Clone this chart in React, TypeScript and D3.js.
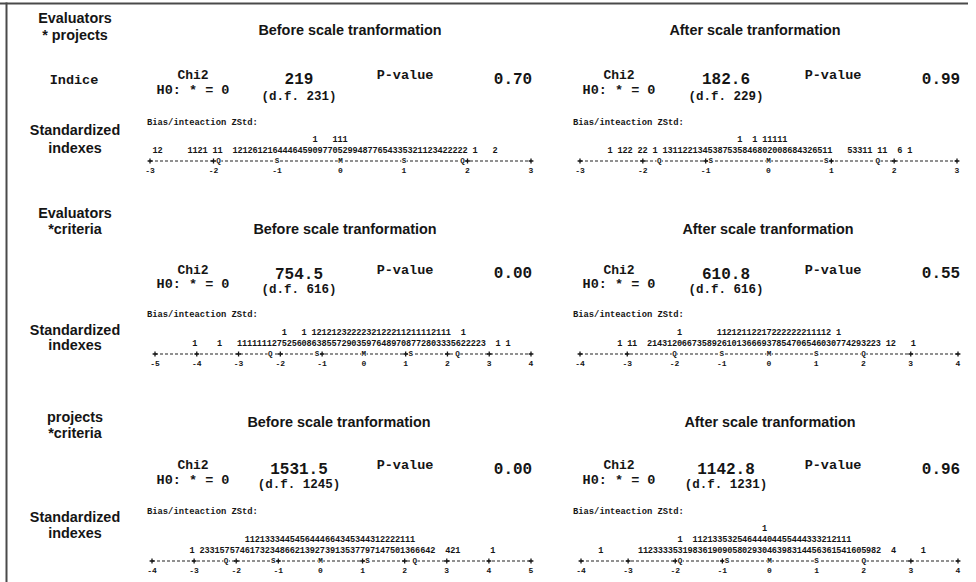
import React from 'react';
import * as d3 from 'd3';

const W = 976;
const H = 582;

// Interaction facets
const facetNames = [
  ['Evaluators', '* projects'],
  ['Evaluators', '*criteria'],
  ['projects', '*criteria'],
];
const stageTitles = ['Before scale tranformation', 'After scale tranformation'];

// Fixed-effects chi-square test per facet interaction
const chi2Before = [219, 754.5, 1531.5];
const dfBefore = [231, 616, 1245];
const pBefore = [0.7, 0.0, 0.0];
const chi2After = [182.6, 610.8, 1142.8];
const dfAfter = [229, 616, 1231];
const pAfter = [0.99, 0.55, 0.96];

// ZStd ruler extents and character columns per ZStd unit
const domainBefore: [number, number][] = [[-3, 3], [-5, 4], [-4, 5]];
const domainAfter: [number, number][] = [[-3, 3], [-4, 4], [-4, 4]];
const colsBefore = [12.7, 8.4, 8.4];
const colsAfter = [12.57, 9.5, 9.5];

// Mean (M), +-1 S.D. (S), +-2 S.D. (Q) markers on the ruler
const markersBefore: [string, number][][] = [
  [['Q', -1.92], ['S', -1], ['M', 0], ['S', 1], ['Q', 1.92]],
  [['Q', -2.24], ['S', -1.12], ['M', 0], ['S', 1.12], ['Q', 2.24]],
  [['Q', -2.24], ['S', -1.12], ['M', 0], ['S', 1.12], ['Q', 2.24]],
];
const markersAfter: [string, number][][] = [
  [['Q', -1.74], ['S', -0.92], ['M', 0], ['S', 0.92], ['Q', 1.74]],
  [['Q', -2], ['S', -1], ['M', 0], ['S', 1], ['Q', 2]],
  [['Q', -1.9], ['S', -0.9], ['M', 0], ['S', 1], ['Q', 2]],
];

// Vertical digit histograms of Bias/interaction ZStd.
// Each row lists [starting column, digits]; row 0 holds the units digit,
// higher rows the tens (and hundreds) digits of the column counts.
type Seg = [number, string];
const histBefore: Seg[][][] = [
  [
    [[1, '12'], [8, '1121'], [13, '11'], [17, '12126121644464590977052994877654335321123422222'], [65, '1'], [69, '2']],
    [[33, '1'], [37, '111']],
  ],
  [
    [[8, '1'], [13, '1'], [17, '11111112752560863855729035976489708772803335622223'], [69, '1'], [71, '1']],
    [[26, '1'], [30, '1'], [32, '1212123222232122211211112111'], [62, '1']],
  ],
  [
    [[8, '1'], [10, '23315757461732348662139273913537797147501366642'], [59, '421'], [68, '1']],
    [[19, '1121333445456444664345344312222111']],
  ],
];
const histAfter: Seg[][][] = [
  [
    [[6, '1 122 22 1 1311221345387535846802008684326511'], [54, '53311'], [60, '11'], [64, '6'], [66, '1']],
    [[32, '1'], [35, '1'], [37, '11111']],
  ],
  [
    [[8, '1'], [10, '11'], [14, '21431206673589261013666937854706546030774293223'], [62, '12'], [67, '1']],
    [[20, '1'], [28, '11212112217222222211112'], [52, '1']],
  ],
  [
    [[4, '1'], [12, '1123333531983619090580293046398314456361541605982'], [63, '4'], [69, '1']],
    [[20, '1'], [23, '11213353254644404455444333212111']],
    [[37, '1']],
  ],
];

// ---- layout ----
const SANS = '"Liberation Sans", Arial, Helvetica, sans-serif';
const MONO = '"Liberation Mono", "DejaVu Sans Mono", monospace';
const INK = '#151515';

const rangeBefore: [number, number][] = [[150, 531], [155, 531], [152, 531]];
const rangeAfter: [number, number][] = [[580, 957], [580, 958], [581, 958]];

const sec = [
  { name: [18, 35], title: 30, chi: 75, h0: 90, val: 80, df: 97, pLab: 75, pVal: 80, std: [130, 148], bias: 123, main: 150.5, axis: 161, lab: 170, indice: 80 },
  { name: [213, 229], title: 229, chi: 270, h0: 284, val: 275, df: 290, pLab: 270, pVal: 274, std: [330, 345], bias: 315, main: 343.5, axis: 354, lab: 363, indice: null },
  { name: [417, 433], title: 422, chi: 465, h0: 480, val: 470, df: 485, pLab: 465, pVal: 470, std: [517, 533], bias: 512, main: 550.5, axis: 561, lab: 570, indice: null },
];
const titleX = [[350, 755], [345, 768], [339, 770]];
const ROW_GAP = 10.6;

type PanelProps = {
  side: number;
  s: typeof sec[number];
  chi2: number;
  df: number;
  p: number;
  domain: [number, number];
  range: [number, number];
  cols: number;
  markers: [string, number][];
  rows: Seg[][];
};

function Panel({ side, s, chi2, df, p, domain, range, cols, markers, rows }: PanelProps) {
  const x = d3.scaleLinear().domain(domain).range(range);
  const ticks = d3.range(domain[0], domain[1] + 1);
  const colStep = 1 / cols;
  const colPx = x(domain[0] + colStep) - x(domain[0]);

  const chiX = side === 0 ? 193 : 619;
  const valX = side === 0 ? 299 : 726;
  const pLabX = side === 0 ? 405 : 833;
  const pValX = side === 0 ? 513 : 941;
  const biasX = side === 0 ? 147 : 573;

  const digits: { x: number; y: number; ch: string; k: string }[] = [];
  rows.forEach((row, r) => {
    row.forEach(([c0, str], si) => {
      str.split('').forEach((ch, i) => {
        if (ch !== ' ') {
          digits.push({ x: x(domain[0] + (c0 + i) * colStep), y: s.main - r * ROW_GAP, ch, k: `${r}-${si}-${i}` });
        }
      });
    });
  });

  const plusTicks = ticks.filter(t => !markers.some(([, v]) => Math.abs(x(v) - x(t)) < colPx * 0.6));
  const cross = (cx: number, cy: number) => `M${cx - 2.4},${cy}h4.8M${cx},${cy - 2.4}v4.8`;

  return (
    <g>
      {/* statistics */}
      <text x={chiX} y={s.chi} textAnchor="middle" fontFamily={MONO} fontWeight="bold" fontSize={13}>Chi2</text>
      <text x={chiX} y={s.h0} textAnchor="middle" fontFamily={MONO} fontWeight="bold" fontSize={13.5}>H0: * = 0</text>
      <text x={valX} y={s.val} textAnchor="middle" fontFamily={MONO} fontWeight="bold" fontSize={16}>{String(chi2)}</text>
      <text x={valX} y={s.df} textAnchor="middle" fontFamily={MONO} fontWeight="bold" fontSize={12.5}>{`(d.f. ${df})`}</text>
      <text x={pLabX} y={s.pLab} textAnchor="middle" fontFamily={MONO} fontWeight="bold" fontSize={13.5}>P-value</text>
      <text x={pValX} y={s.pVal} textAnchor="middle" fontFamily={MONO} fontWeight="bold" fontSize={16}>{p.toFixed(2)}</text>

      {/* ZStd digit histogram */}
      <text x={biasX} y={s.bias} fontFamily={MONO} fontWeight="bold" fontSize={8.8}>Bias/inteaction ZStd:</text>
      {digits.map(d => (
        <text key={d.k} x={d.x} y={d.y} textAnchor="middle" fontFamily={MONO} fontWeight="bold" fontSize={8.6}>{d.ch}</text>
      ))}

      {/* ruler */}
      <line x1={range[0]} x2={range[1]} y1={s.axis} y2={s.axis} stroke="#222" strokeWidth={1.2} strokeDasharray="3,2" />
      {plusTicks.map(t => (
        <path key={`p${t}`} d={cross(x(t), s.axis)} stroke="#151515" strokeWidth={1.3} fill="none" />
      ))}
      {markers.map(([m, v], i) => (
        <g key={`m${i}`}>
          <rect x={x(v) - 2.7} y={s.axis - 3} width={5.4} height={6} fill="#fff" />
          <text x={x(v)} y={s.axis} textAnchor="middle" fontFamily={MONO} fontWeight="bold" fontSize={7.6}>{m}</text>
        </g>
      ))}
      {ticks.map(t => (
        <text key={`l${t}`} x={x(t)} y={s.lab} textAnchor="middle" fontFamily={MONO} fontWeight="bold" fontSize={8}>{String(t)}</text>
      ))}
    </g>
  );
}

export default function App() {
  return (
    <svg width={W} height={H} viewBox={`0 0 ${W} ${H}`}
      style={{ position: 'absolute', left: 0, top: 0, display: 'block', background: '#fff' }}>
      <g fill={INK} dominantBaseline="central">
        <rect x={0} y={0} width={W} height={H} fill="#fff" />
        {/* frame */}
        <rect x={0} y={2.5} width={968} height={2} fill="#4a4a4a" />
        <rect x={5.5} y={2.5} width={2} height={H} fill="#4a4a4a" />

        {sec.map((s, i) => (
          <g key={i}>
            <text x={75} y={s.name[0]} textAnchor="middle" fontFamily={SANS} fontWeight="bold" fontSize={14.4}>{facetNames[i][0]}</text>
            <text x={75} y={s.name[1]} textAnchor="middle" fontFamily={SANS} fontWeight="bold" fontSize={14.4}>{facetNames[i][1]}</text>
            <text x={titleX[i][0]} y={s.title} textAnchor="middle" fontFamily={SANS} fontWeight="bold" fontSize={14.4}>{stageTitles[0]}</text>
            <text x={titleX[i][1]} y={s.title} textAnchor="middle" fontFamily={SANS} fontWeight="bold" fontSize={14.4}>{stageTitles[1]}</text>
            {s.indice !== null && (
              <text x={74} y={s.indice} textAnchor="middle" fontFamily={MONO} fontWeight="bold" fontSize={13.5}>Indice</text>
            )}
            <text x={75} y={s.std[0]} textAnchor="middle" fontFamily={SANS} fontWeight="bold" fontSize={14.4}>Standardized</text>
            <text x={75} y={s.std[1]} textAnchor="middle" fontFamily={SANS} fontWeight="bold" fontSize={14.4}>indexes</text>

            <Panel side={0} s={s} chi2={chi2Before[i]} df={dfBefore[i]} p={pBefore[i]}
              domain={domainBefore[i]} range={rangeBefore[i]} cols={colsBefore[i]}
              markers={markersBefore[i]} rows={histBefore[i]} />
            <Panel side={1} s={s} chi2={chi2After[i]} df={dfAfter[i]} p={pAfter[i]}
              domain={domainAfter[i]} range={rangeAfter[i]} cols={colsAfter[i]}
              markers={markersAfter[i]} rows={histAfter[i]} />
          </g>
        ))}
      </g>
    </svg>
  );
}
